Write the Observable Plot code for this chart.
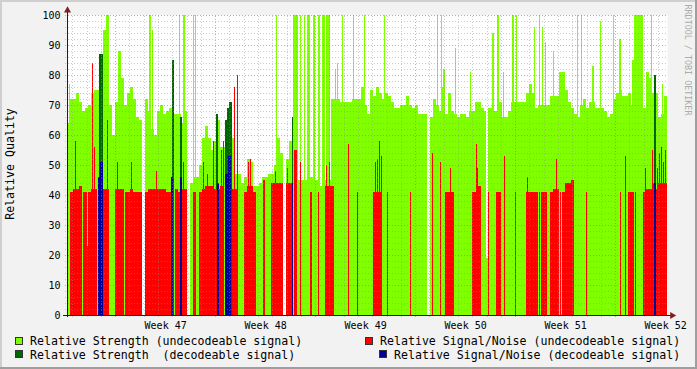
<!DOCTYPE html>
<html><head><meta charset="utf-8">
<script src="https://cdn.jsdelivr.net/npm/d3@7"></script>
<script src="https://cdn.jsdelivr.net/npm/@observablehq/plot@0.6"></script>
<style>
body{margin:0;background:#fff}
#wrap{position:relative;width:697px;height:369px;background:#f2f2f2;overflow:hidden;font-family:"DejaVu Sans Mono",monospace;color:#000}
#wrap svg{position:absolute;left:0;top:0}
.sh{position:absolute}
.leg{position:absolute;font-size:11.6px;white-space:pre;line-height:14px;height:14px}
.box{position:absolute;width:6px;height:6px;border:1px solid #333}
.rot{position:absolute;white-space:pre;line-height:1}
</style></head><body>
<div id="wrap"></div>
<script>
// ---------------- data ----------------
const weekLabels = ["Week 47","Week 48","Week 49","Week 50","Week 51","Week 52"];
const yTicks = [0,10,20,30,40,50,60,70,80,90,100];
const legendItems = [
  "Relative Strength (undecodeable signal)",
  "Relative Signal/Noise (undecodeable signal)",
  "Relative Strength  (decodeable signal)",
  "Relative Signal/Noise (decodeable signal)"
];
// base level per ~5-hour column (200 columns over the six weeks shown)
const strengthUndecodeable = [
 64,72,72,74,71,68,69,70,74,75, 75,80,95,100,70,60,71,88,79,70,
 74,76,72,66,65,0,72,68,62,60, 68,70,67,68,69,67,67,67,64,68,
 0,44,46,46,50,59,63,59,55,58, 65,56,56,56,56,59,47,47,44,46,
 52,51,43,43,44,46,46,47,47,50, 59,54,0,52,58,48,48,45,45,45,
 45,46,45,45,43,45,45,45,72,72, 72,71,71,71,71,72,72,72,76,70,
 67,75,73,76,74,72,74,73,71,69, 69,70,70,73,70,69,70,67,67,67,
 0,66,72,70,68,76,67,74,68,67, 66,67,67,66,68,68,71,71,69,68,
 69,69,68,68,71,66,66,68,71,71, 71,71,71,74,77,74,69,70,70,70,
 70,73,73,73,81,81,75,71,69,67, 66,70,72,69,71,71,69,69,69,68,
 66,67,72,74,75,73,73,74,70,100, 100,100,69,81,79,74,74,66,67,73
];
const snrUndecodeable = [
 0,41,42,42,43,41,41,41,42,42, 0,0,42,42,0,0,42,42,42,41,
 41,42,41,41,41,0,41,42,42,42, 42,42,42,41,41,0,42,41,42,42,
 0,0,41,0,41,42,43,43,43,42, 42,43,0,0,0,42,42,0,0,41,
 43,43,41,0,0,0,0,0,44,44, 44,44,0,44,44,0,0,0,0,0,
 0,0,0,0,0,0,43,43,43,0, 0,0,0,0,0,0,0,0,0,0,
 0,0,41,41,41,0,0,0,0,0, 0,0,0,0,0,0,0,0,0,0,
 0,0,0,0,0,0,41,41,41,0, 0,0,0,0,0,41,41,43,0,0,
 0,0,0,0,0,0,0,0,0,0, 0,0,0,41,41,41,41,0,41,41,
 0,41,42,42,0,41,44,44,45,0, 0,0,0,0,0,0,0,0,0,0,
 0,0,0,0,0,0,0,41,41,0, 0,0,41,42,42,44,42,44,44,44
];
// short events: [start day, end day, value]
const strengthUndecodeableSpikes = [
 [0.14,0.21,77],[5.74,5.88,100],[5.95,6.02,95],[7.84,7.91,100],[8.12,8.26,100],
 [8.82,8.89,100],[8.96,9.03,100],[14.63,14.70,100],[15.82,16.17,100],[16.31,16.38,100],
 [16.59,16.66,100],[16.80,17.01,100],[17.22,17.36,100],[17.57,17.71,100],[17.85,18.06,100],
 [18.13,18.41,100],[18.76,18.83,82],[18.90,18.97,84],[19.25,19.32,100],[20.02,20.09,100],
 [20.79,20.86,100],[22.19,22.26,100],[25.90,25.97,100],[26.18,26.25,100],[26.32,26.46,82],
 [27.16,27.23,89],[28.21,28.28,81],[29.40,29.47,100],[29.75,29.89,94],[30.10,30.24,100],
 [30.52,30.59,81],[31.15,31.29,100],[31.43,31.50,100],[32.69,32.76,96],[33.04,33.11,100],
 [33.25,33.32,96],[33.46,33.53,91],[34.02,34.09,88],[35.70,35.77,100],[35.98,36.05,100],
 [36.75,36.89,83],[37.31,37.38,98],[38.22,38.29,100],[38.64,38.78,92],[39.55,39.69,85],
 [40.88,40.95,100],[41.65,41.72,77]
];
const strengthDropouts = [[29.33,29.47,19]];
const strengthDecodeable = [
 [2.24,2.52,87],[7.35,7.49,85],[7.91,8.05,66],[10.43,10.57,67],[11.06,11.20,65],
 [11.20,11.34,69],[11.34,11.55,71],[15.75,15.82,66],[41.09,41.23,80]
];
// short dips of the signal/noise inside red stretches: [start, end, dipped value]
const snrUndecodeableDips = [[1.05,1.12,0],[1.40,1.47,23],[3.99,4.06,0]];
const snrUndecodeableSpikes = [
 [0.56,0.63,58],[1.75,1.82,84],[1.89,1.96,56],[2.80,2.87,65],[3.50,3.57,51],
 [4.48,4.55,51],[6.23,6.30,48],[8.12,8.19,51],[9.52,9.59,51],[9.80,9.87,47],
 [10.22,10.29,58],[10.78,10.85,55],[10.92,10.99,58],[11.69,11.76,76],[11.90,11.97,80],
 [12.67,12.74,51],[12.81,12.88,52],[13.72,13.86,45],[14.56,14.63,48],[15.40,15.47,49],
 [15.89,16.10,55],[16.31,16.38,51],[17.01,17.15,41],[17.57,17.64,41],[18.13,18.20,50],
 [18.34,18.41,51],[19.67,19.74,57],[20.30,20.37,41],[21.56,21.63,51],[21.70,21.77,52],
 [21.84,21.91,58],[21.98,22.05,53],[22.40,22.47,41],[24.01,24.08,41],[25.55,25.62,54],
 [26.11,26.18,51],[26.81,26.88,49],[28.63,28.70,57],[28.70,28.77,49],[29.47,29.54,41],
 [30.03,30.38,41],[30.59,30.66,53],[31.36,31.43,41],[32.20,32.27,46],[33.04,33.11,41],
 [34.23,34.30,52],[34.51,34.58,41],[36.33,36.40,41],[38.71,38.78,41],[39.06,39.13,53],
 [39.76,39.83,41],[40.46,40.53,49],[40.95,41.02,55],[41.30,41.37,49],[41.44,41.51,54],
 [41.58,41.65,56],[41.72,41.79,51],[41.86,41.93,55]
];
const snrDecodeable = [
 [2.17,2.31,46],[2.31,2.52,51],[7.28,7.42,46],[7.91,8.05,46],[10.50,10.64,44],
 [11.06,11.27,47],[11.27,11.48,53],[15.75,15.82,44],[41.09,41.23,44]
];
// time axis, in days from the start of the graph
const spanDays = 42;
const columnDays = spanDays / strengthUndecodeable.length;
const firstDayLine = 0.37;   // first midnight
const firstWeekLine = 3.37;  // first Monday
const colors = ["#80ff00", "#006600", "#ff0000", "#000099"];

// ---------------- marks ----------------
const cols = (arr) => arr.map((v, i) => ({t0: i * columnDays, t1: (i + 1) * columnDays, v})).filter(d => d.v > 0);
const evts = (arr) => arr.map(([t0, t1, v]) => ({t0, t1, v}));
const bars = (data, color) => Plot.rect(data, {
  x1: "t0", x2: "t1", y1: 0, y2: "v", fill: color, shapeRendering: "crispEdges"
});
const dayLines = d3.range(firstDayLine, spanDays, 1).filter(t => Math.abs(((t - firstWeekLine) % 7 + 7) % 7) > 0.01);
const weekLines = d3.range(firstWeekLine, spanDays, 7);
const weekLabelDays = weekLabels.map((w, i) => firstWeekLine + 3.5 + 7 * i);
const minorY = d3.range(2, 101, 2).filter(v => v % 10 !== 0);
const majorY = yTicks.filter(v => v > 0);
const gridMinor = {stroke: "#8f8f8f", strokeOpacity: 0.45, strokeDasharray: "1,2", shapeRendering: "crispEdges"};
const gridMajor = {stroke: "#de4f4f", strokeOpacity: 0.55, strokeDasharray: "1,2", shapeRendering: "crispEdges"};

const chart = Plot.plot({
  width: 697, height: 330,
  marginLeft: 67, marginRight: 30, marginTop: 15, marginBottom: 15,
  x: {domain: [0, spanDays], axis: null},
  y: {domain: [0, 100], axis: null},
  style: {background: "transparent", fontFamily: "DejaVu Sans Mono", overflow: "visible"},
  marks: [
    Plot.frame({fill: "white", stroke: "none"}),
    bars(cols(strengthUndecodeable), colors[0]),
    bars(evts(strengthUndecodeableSpikes), colors[0]),
    Plot.rect(evts(strengthDropouts), {x1: "t0", x2: "t1", y1: "v", y2: 100, fill: "white", shapeRendering: "crispEdges"}),
    bars(evts(strengthDecodeable), colors[1]),
    bars(cols(snrUndecodeable), colors[2]),
    Plot.rect(evts(snrUndecodeableDips), {x1: "t0", x2: "t1", y1: "v", y2: 43, fill: colors[0], shapeRendering: "crispEdges"}),
    bars(evts(snrUndecodeableSpikes), colors[2]),
    bars(evts(snrDecodeable), colors[3]),
    Plot.ruleY(minorY, {x1: -0.14, x2: spanDays, ...gridMinor}),
    Plot.ruleX(dayLines, {y1: -0.67, y2: 100, ...gridMinor}),
    Plot.ruleY(majorY, {x1: -0.14, x2: spanDays, ...gridMajor}),
    Plot.ruleX(weekLines, {y1: -0.67, y2: 100, ...gridMajor}),
    Plot.ruleX([0], {y1: -0.67, y2: 101.5, stroke: "#1f1f1f", shapeRendering: "crispEdges"}),
    Plot.ruleY([0], {x1: -0.28, x2: spanDays + 0.3, stroke: "#1f1f1f", shapeRendering: "crispEdges"}),
    Plot.dot([0], {x: 0, y: 101.7, symbol: "triangle", r: 2.6, fill: "#801f1f", stroke: "none"}),
    Plot.dot([0], {x: spanDays + 0.33, y: 0, symbol: "triangle", rotate: 90, r: 2.6, fill: "#801f1f", stroke: "none"}),
    Plot.text(yTicks, {x: 0, y: d => d, text: d => String(d), textAnchor: "end", dx: -7, fontSize: 10, fill: "#000"}),
    Plot.text(weekLabels, {x: (d, i) => weekLabelDays[i], y: 0, dy: 10, text: d => d, fontSize: 10, fill: "#000"})
  ]
});

const wrap = document.getElementById("wrap");
wrap.appendChild(chart);

function el(cls, css, text) {
  const e = document.createElement("div");
  e.className = cls;
  e.style.cssText = css;
  if (text != null) e.textContent = text;
  wrap.appendChild(e);
  return e;
}
// 3D shade border
el("sh", "left:0;top:0;width:697px;height:2px;background:#cfcfcf");
el("sh", "left:0;top:0;width:2px;height:369px;background:#cfcfcf");
el("sh", "left:0;top:367px;width:697px;height:2px;background:#9e9e9e");
el("sh", "left:695px;top:0;width:2px;height:369px;background:#9e9e9e");

el("rot", "left:11px;top:164px;font-size:11.6px;transform:translate(-50%,-50%) rotate(-90deg)", "Relative Quality");
el("rot", "left:688px;top:60px;font-size:8.4px;color:#ababab;transform:translate(-50%,-50%) rotate(90deg)", "RRDTOOL / TOBI OETIKER");

const legPos = [[15, 30, 334, 337], [365, 380, 334, 337], [15, 30, 347.5, 350], [379, 394, 347.5, 350]];
const legColorIdx = [0, 2, 1, 3];
legendItems.forEach((t, i) => {
  const [bx, tx, ty, by] = legPos[i];
  el("box", `left:${bx}px;top:${by}px;background:${colors[legColorIdx[i]]}`);
  el("leg", `left:${tx}px;top:${ty}px`, t);
});
</script>
</body></html>
